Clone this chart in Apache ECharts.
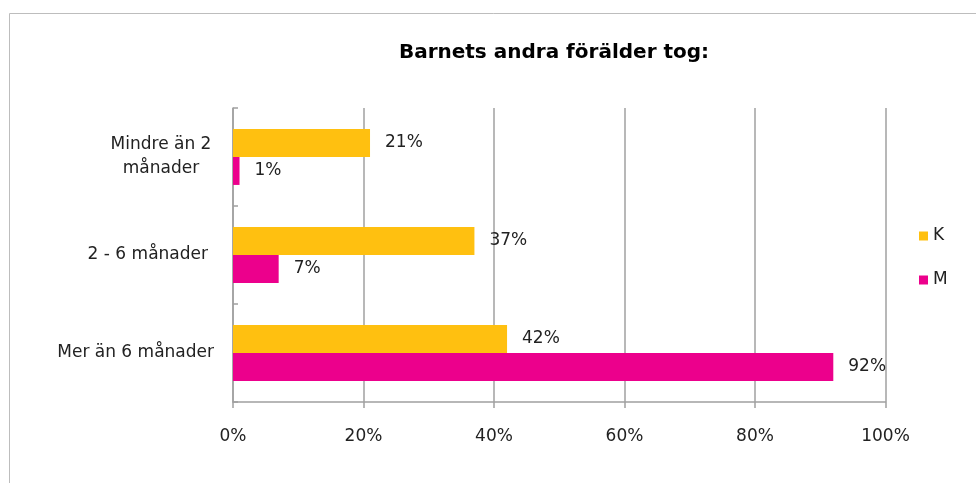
<!DOCTYPE html>
<html>
<head>
<meta charset="utf-8">
<script src="https://cdn.jsdelivr.net/npm/echarts@6/dist/echarts.min.js"></script>
<style>
html,body{margin:0;padding:0;background:#fff;}
#chart{width:976px;height:483px;}
</style>
</head>
<body>
<div id="chart"></div>
<script>
const titleText = 'Barnets andra förälder tog:';
const categories = ['Mindre än 2\nmånader', '2 - 6 månader', 'Mer än 6 månader'];
const seriesNames = ['K', 'M'];
const valuesK = [21, 37, 42];
const valuesM = [1, 7, 92];
const xTicks = [0, 20, 40, 60, 80, 100];

const colors = ['#FFC010', '#EC008C'];
const font = 'DejaVu Sans, Verdana, sans-serif';
const chart = echarts.init(document.getElementById('chart'));
const labelCfg = {
  show: true, position: 'right', distance: 15,
  formatter: p => p.value + '%', color: '#222', fontSize: 17, fontFamily: font
};
chart.setOption({
  animation: false,
  color: colors,
  title: {
    text: titleText, left: 549, top: 38, textAlign: 'center',
    textStyle: {fontSize: 20, fontWeight: 'bold', color: '#000', fontFamily: font}
  },
  graphic: [{
    type: 'rect', shape: {x: 9.5, y: 13.5, width: 1000, height: 500},
    style: {fill: 'none', stroke: '#bdbdbd', lineWidth: 1}, silent: true
  }],
  legend: {
    orient: 'vertical', left: 919, top: 227.5, padding: 0, itemWidth: 9, itemHeight: 9, itemGap: 27,
    icon: 'rect', data: seriesNames,
    textStyle: {fontSize: 17, lineHeight: 17, color: '#222', fontFamily: font}
  },
  grid: {left: 233, right: 90.5, top: 108, bottom: 81, containLabel: false},
  xAxis: {
    type: 'value', min: xTicks[0], max: xTicks[xTicks.length - 1], interval: 20,
    axisLine: {show: true, lineStyle: {color: '#a0a0a0', width: 1.5}},
    axisTick: {show: true, length: 6, lineStyle: {color: '#a0a0a0', width: 1.5}},
    splitLine: {show: true, lineStyle: {color: '#a0a0a0', width: 1.5}},
    axisLabel: {formatter: '{value}%', fontSize: 17, color: '#222', fontFamily: font, margin: 26}
  },
  yAxis: {
    type: 'category', inverse: true, data: categories,
    axisLine: {show: true, lineStyle: {color: '#a0a0a0', width: 1.5}},
    axisTick: {show: true, inside: true, length: 5, lineStyle: {color: '#a0a0a0', width: 1.5}},
    axisLabel: {
      fontSize: 17, color: '#222', fontFamily: font, margin: 19, align: 'right',
      formatter: (v, i) => v.indexOf('\n') >= 0
        ? v.split('\n').map(s => '{c|' + s + '}').join('\n')
        : (i === 1 ? '{p|' + v + '}' : v),
      rich: {
        c: {width: 106, align: 'center', fontSize: 17, lineHeight: 24, color: '#222', fontFamily: font},
        p: {padding: [0, 6, 0, 0], fontSize: 17, color: '#222', fontFamily: font}
      }
    }
  },
  series: [
    {name: seriesNames[0], type: 'bar', data: valuesK, barGap: '0%', barCategoryGap: '43%', label: labelCfg},
    {name: seriesNames[1], type: 'bar', data: valuesM, barGap: '0%', barCategoryGap: '43%', label: labelCfg}
  ]
});
</script>
</body>
</html>
